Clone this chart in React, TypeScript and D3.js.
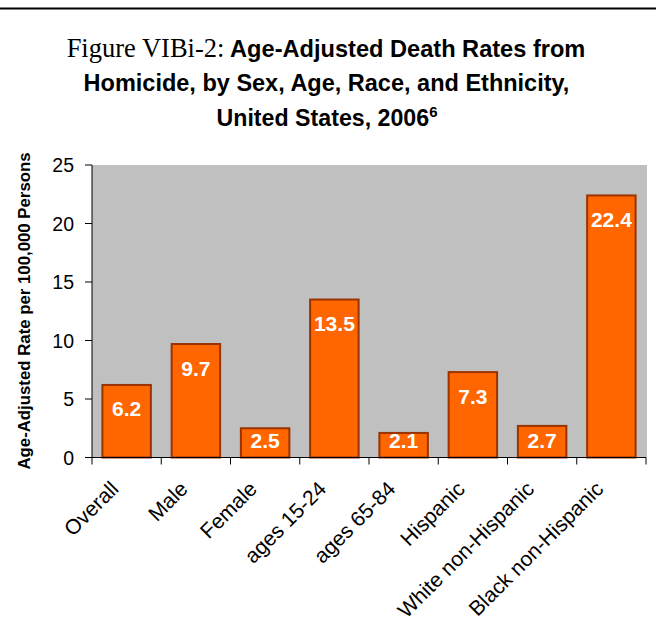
import React from "react";
import * as d3 from "d3";

const categories = [
  "Overall",
  "Male",
  "Female",
  "ages 15-24",
  "ages 65-84",
  "Hispanic",
  "White non-Hispanic",
  "Black non-Hispanic",
];
const rates = [6.2, 9.7, 2.5, 13.5, 2.1, 7.3, 2.7, 22.4];
const yTicks = [0, 5, 10, 15, 20, 25];

const W = 656;
const H = 644;
const plot = { left: 92, right: 646, top: 165, bottom: 457.5 };

export default function App() {
  const x = d3
    .scaleBand<string>()
    .domain(categories)
    .range([plot.left, plot.right])
    .paddingInner(0.3)
    .paddingOuter(0.15);
  const bandStep = (plot.right - plot.left) / categories.length;
  const y = d3.scaleLinear().domain([0, 25]).range([plot.bottom, plot.top]);
  const sans = "Liberation Sans, Arial, sans-serif";

  return (
    <svg
      width={W}
      height={H}
      viewBox={`0 0 ${W} ${H}`}
      style={{ position: "absolute", left: 0, top: 0, background: "#fff" }}
    >
      <line x1={0} x2={W} y1={8.5} y2={8.5} stroke="#000" strokeWidth={2} />

      {/* Title */}
      <text x={326} y={57} textAnchor="middle" fontFamily={sans} fontWeight="bold" fontSize={23.6} fill="#000">
        <tspan fontFamily="Liberation Serif, Times New Roman, serif" fontWeight="normal" fontSize={26.5}>
          Figure VIBi-2:
        </tspan>
        <tspan> Age-Adjusted Death Rates from</tspan>
      </text>
      <text x={326.5} y={91} textAnchor="middle" fontFamily={sans} fontWeight="bold" fontSize={23.5} fill="#000">
        Homicide, by Sex, Age, Race, and Ethnicity,
      </text>
      <text x={327} y={126} textAnchor="middle" fontFamily={sans} fontWeight="bold" fontSize={23.2} fill="#000">
        United States, 2006
        <tspan fontSize={15} dy={-9}>6</tspan>
      </text>

      {/* Plot background */}
      <rect
        x={plot.left}
        y={plot.top}
        width={plot.right - plot.left + 1}
        height={plot.bottom - plot.top}
        fill="#C0C0C0"
      />

      {/* Bars with value labels */}
      {categories.map((c, i) => {
        const top = y(rates[i]);
        const labelY = Math.min(top + 31.5, plot.bottom - 10);
        return (
          <g key={c}>
            <rect
              x={x(c)}
              y={top}
              width={x.bandwidth()}
              height={y(0) - top}
              fill="#FF6600"
              stroke="#993300"
              strokeWidth={2}
            />
            <text
              x={(x(c) ?? 0) + x.bandwidth() / 2}
              y={labelY}
              textAnchor="middle"
              fontFamily={sans}
              fontWeight="bold"
              fontSize={21}
              fill="#fff"
            >
              {rates[i].toFixed(1)}
            </text>
          </g>
        );
      })}

      {/* Y axis */}
      <line x1={plot.left} x2={plot.left} y1={plot.top} y2={plot.bottom} stroke="#000" strokeWidth={1} />
      {yTicks.map((t) => (
        <g key={t}>
          <line x1={plot.left - 7} x2={plot.left} y1={y(t)} y2={y(t)} stroke="#000" />
          <text
            x={74}
            y={y(t)}
            dy="0.36em"
            textAnchor="end"
            fontFamily={sans}
            fontSize={19.5}
            fill="#000"
          >
            {t}
          </text>
        </g>
      ))}
      <text
        transform={`translate(30,311) rotate(-90)`}
        textAnchor="middle"
        fontFamily={sans}
        fontWeight="bold"
        fontSize={16.8}
        fill="#000"
      >
        Age-Adjusted Rate per 100,000 Persons
      </text>

      {/* X axis */}
      <line x1={plot.left} x2={plot.right} y1={plot.bottom} y2={plot.bottom} stroke="#000" />
      {d3.range(categories.length + 1).map((i) => (
        <line
          key={i}
          x1={plot.left + i * bandStep}
          x2={plot.left + i * bandStep}
          y1={plot.bottom}
          y2={plot.bottom + 7}
          stroke="#000"
        />
      ))}
      {categories.map((c, i) => {
        const cx = plot.left + (i + 0.5) * bandStep;
        return (
          <text
            key={c}
            transform={`translate(${cx - 12},485) rotate(-45)`}
            textAnchor="end"
            dy="0.35em"
            fontFamily={sans}
            fontSize={21}
            fill="#000"
          >
            {c}
          </text>
        );
      })}
    </svg>
  );
}
